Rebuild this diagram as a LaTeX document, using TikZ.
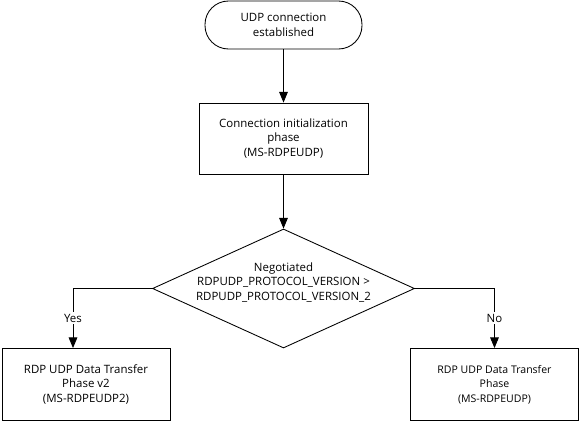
\documentclass[tikz,border=0pt]{standalone}
\usepackage{fontspec}
\setmainfont{Open Sans}
\usetikzlibrary{arrows.meta,shapes.geometric,calc}
\tikzset{
  base/.style={draw=black,line width=0.65pt,align=center,inner sep=0pt,font=\fontsize{8.6pt}{11.2pt}\selectfont},
  term/.style={base,rectangle,rounded corners=17.6pt,minimum width=117.75pt,minimum height=36pt},
  procbox/.style={base,rectangle,minimum width=126.75pt,minimum height=53.25pt},
  endbox/.style={base,rectangle,minimum width=126pt,minimum height=54pt},
  decision/.style={draw=black,line width=0.65pt,diamond,inner sep=0pt,minimum width=196.5pt,minimum height=89.25pt},
  conn/.style={line width=0.65pt,-{Triangle[length=8pt,width=6.5pt]}},
  lbl/.style={fill=white,inner sep=1.5pt,font=\fontsize{8.6pt}{10pt}\selectfont}
}
\begin{document}
\begin{tikzpicture}[x=0.75pt,y=-0.75pt]
\useasboundingbox (0,0) rectangle (579,421);
\node[term] (start) at (283.5,25) {UDP connection\\established};
\node[procbox] (init) at (283.5,138.5) {Connection initialization\\phase\\(MS-RDPEUDP)};
\node[decision] (dec) at (283.5,288.5) {};
\node[align=center,inner sep=0pt,font=\fontsize{8.6pt}{11.2pt}\selectfont] (dectext) at (283.5,282.5) {Negotiated\\RDPUDP\_PROTOCOL\_VERSION >\\RDPUDP\_PROTOCOL\_VERSION\_2};
\node[endbox] (v2) at (86,384.5) {RDP UDP Data Transfer\\Phase v2\\(MS-RDPEUDP2)};
\node[endbox,font=\fontsize{7.9pt}{11pt}\selectfont] (v1) at (494.5,384.5) {RDP UDP Data Transfer\\Phase\\(MS-RDPEUDP)};
\draw[conn] (start) -- (init);
\draw[conn] (init) -- (dec);
\draw[conn] (dec.west) -| node[lbl,pos=0.75] (yes) {Yes} ([xshift=-9.75pt]v2.north);
\draw[conn] (dec.east) -| node[lbl,pos=0.75] (no) {No} (v1.north);
\end{tikzpicture}
\end{document}
